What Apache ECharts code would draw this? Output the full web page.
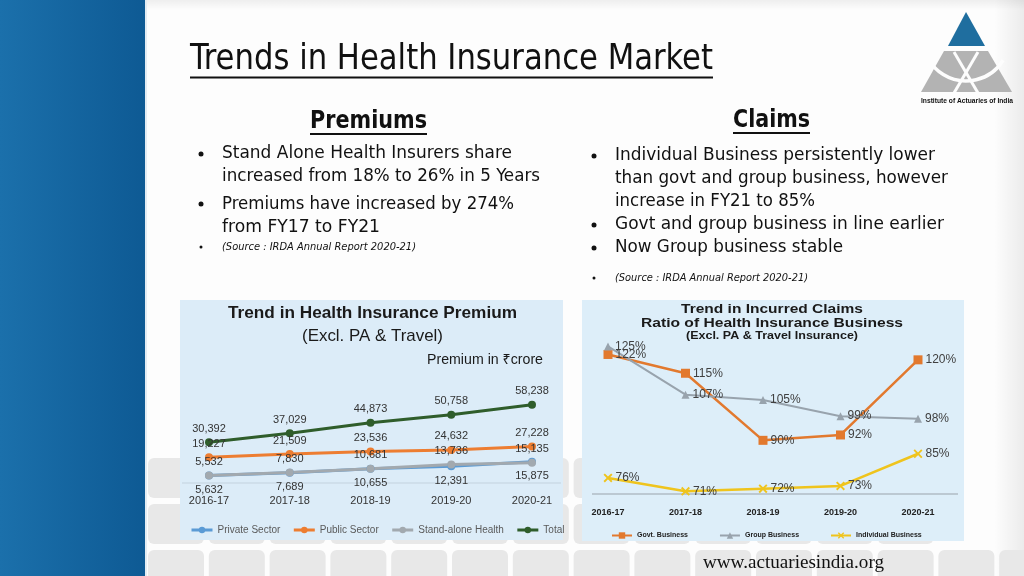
<!DOCTYPE html>
<html><head><meta charset="utf-8">
<script src="https://cdn.jsdelivr.net/npm/echarts@6/dist/echarts.min.js"></script>
<style>html,body{margin:0;padding:0;background:#fff}#c{width:1024px;height:576px}</style>
</head><body><div id="c"></div>
<script>
// ---------- data ----------
const years = ['2016-17', '2017-18', '2018-19', '2019-20', '2020-21'];
const premiumSeriesNames = ['Private Sector', 'Public Sector', 'Stand-alone Health', 'Total'];
const privateSector = [5632, 7689, 10655, 12391, 15875];
const publicSector = [19227, 21509, 23536, 24632, 27228];
const standAloneHealth = [5532, 7830, 10681, 13736, 15135];
const totalPremium = [30392, 37029, 44873, 50758, 58238];
const claimSeriesNames = ['Govt. Business', 'Group Business', 'Individual Business'];
const govtBusiness = [122, 115, 90, 92, 120];
const groupBusiness = [125, 107, 105, 99, 98];
const individualBusiness = [76, 71, 72, 73, 85];

// ---------- fonts / helpers ----------
const NARROW = "'Liberation Sans Narrow','Arial Narrow','DejaVu Sans Condensed',sans-serif";
const SANS = "'Liberation Sans',Arial,sans-serif";
const SERIF = "'Liberation Serif','Times New Roman',serif";
const mctx = document.createElement('canvas').getContext('2d');
function txt(text, x, y, o) {
  o = o || {};
  const size = o.size || 16, weight = o.weight || 'normal', fstyle = o.italic ? 'italic' : 'normal', family = o.family || NARROW;
  let sx = 1;
  if (o.w) { mctx.font = fstyle + ' ' + weight + ' ' + size + 'px ' + family; sx = o.w / mctx.measureText(text).width; }
  const al = o.align || 'left';
  return { type: 'text', x: x, y: y, scaleX: sx, z: 20,
    style: { text: text, fontSize: size, fontWeight: weight, fontStyle: fstyle, fontFamily: family,
      fill: o.color || '#111', align: al, textAlign: al, verticalAlign: 'middle', textVerticalAlign: 'middle' } };
}
function line(x1, y1, x2, y2, color, w, z) {
  return { type: 'line', z: z || 15, shape: { x1: x1, y1: y1, x2: x2, y2: y2 }, style: { stroke: color, lineWidth: w } };
}
function dot(x, y, r) { return { type: 'circle', z: 20, shape: { cx: x, cy: y, r: r }, style: { fill: '#111' } }; }
const fmtNum = p => Number(p.value).toLocaleString('en-US');

// ---------- slide decoration ----------
const G = [];
G.push({ type: 'rect', z: 0, shape: { x: 0, y: 0, width: 1024, height: 576 }, style: { fill: '#fdfdfd' } });
G.push({ type: 'rect', z: 1, shape: { x: 0, y: 0, width: 1024, height: 10 },
  style: { fill: new echarts.graphic.LinearGradient(0, 0, 0, 1, [{ offset: 0, color: 'rgba(0,0,0,0.06)' }, { offset: 1, color: 'rgba(0,0,0,0)' }]) } });
G.push({ type: 'rect', z: 1, shape: { x: 994, y: 0, width: 30, height: 576 },
  style: { fill: new echarts.graphic.LinearGradient(0, 0, 1, 0, [{ offset: 0, color: 'rgba(0,0,0,0)' }, { offset: 1, color: 'rgba(0,0,0,0.07)' }]) } });
// tiles
for (let r = 0; r < 3; r++) {
  const ty = [458, 504, 550][r];
  for (let c = 0; c < 15; c++) {
    const tx = 148 + c * 60.8;
    if (r < 2 && tx > 920) continue;
    G.push({ type: 'rect', z: 2, shape: { x: tx, y: ty, width: 56, height: 40, r: 6 }, style: { fill: '#e8e8e8' } });
  }
}
// blue band
G.push({ type: 'rect', z: 3, shape: { x: 0, y: 0, width: 145, height: 576 },
  style: { fill: new echarts.graphic.LinearGradient(0, 0, 1, 0, [{ offset: 0, color: '#1b70ab' }, { offset: 1, color: '#0e5a94' }]) } });
G.push(line(146, 0, 146, 576, '#e3ecf3', 2, 4));
// chart panels
G.push({ type: 'rect', z: 5, shape: { x: 180, y: 300, width: 383, height: 240 }, style: { fill: '#dcecf8' } });
G.push({ type: 'rect', z: 5, shape: { x: 582, y: 300, width: 382, height: 241 }, style: { fill: '#ddeef9' } });
G.push(line(182, 483, 561, 483, '#c3d2de', 1, 6));
G.push(line(592, 494, 958, 494, '#9aa3ab', 1, 6));
// titles
G.push(txt('Trends in Health Insurance Market', 190, 60, { size: 36, w: 523 }));
G.push(line(190, 77.5, 713, 77.5, '#111', 2));
G.push(txt('Premiums', 368.5, 121, { size: 25, weight: 'bold', w: 117, align: 'center' }));
G.push(line(310, 134, 427, 134, '#111', 2));
G.push(txt('Claims', 771.5, 120, { size: 25, weight: 'bold', w: 77, align: 'center' }));
G.push(line(733, 133, 810, 133, '#111', 2));
// bullets left
G.push(dot(201, 154, 2.5));
G.push(txt('Stand Alone Health Insurers share', 222, 153, { size: 18, w: 290 }));
G.push(txt('increased from 18% to 26% in 5 Years', 222, 176, { size: 18, w: 318 }));
G.push(dot(201, 204, 2.5));
G.push(txt('Premiums have increased by 274%', 222, 204, { size: 18, w: 292 }));
G.push(txt('from FY17 to FY21', 222, 227, { size: 18, w: 158 }));
G.push(dot(201, 247, 1.5));
G.push(txt('(Source : IRDA Annual Report 2020-21)', 222, 247, { size: 11, italic: true, w: 194 }));
// bullets right
G.push(dot(594, 156, 2.5));
G.push(txt('Individual Business persistently lower', 615, 155, { size: 18, w: 320 }));
G.push(txt('than govt and group business, however', 615, 178, { size: 18, w: 333 }));
G.push(txt('increase in FY21 to 85%', 615, 201, { size: 18, w: 200 }));
G.push(dot(594, 225, 2.5));
G.push(txt('Govt and group business in line earlier', 615, 224, { size: 18, w: 329 }));
G.push(dot(594, 248, 2.5));
G.push(txt('Now Group business stable', 615, 247, { size: 18, w: 228 }));
G.push(dot(594, 278, 1.5));
G.push(txt('(Source : IRDA Annual Report 2020-21)', 615, 278, { size: 11, italic: true, w: 193 }));
// footer
G.push(txt('www.actuariesindia.org', 703, 563, { size: 18, family: SERIF, w: 181 }));
// logo
G.push({ type: 'polygon', z: 20, shape: { points: [[966, 12], [948, 46], [985, 46]] }, style: { fill: '#1f6e9f' } });
G.push({ type: 'polygon', z: 20, shape: { points: [[944, 51], [988, 51], [1012, 92], [921, 92]] }, style: { fill: '#b3b3b3' } });
G.push({ type: 'arc', z: 21, shape: { cx: 966, cy: 37.5, r: 43.5, startAngle: 0.55, endAngle: 2.6 }, style: { stroke: '#fdfdfd', lineWidth: 3.5, fill: null } });
G.push(line(954, 52, 978, 93, '#fdfdfd', 3, 21));
G.push(line(978, 52, 954, 93, '#fdfdfd', 3, 21));
G.push(txt('Institute of Actuaries of India', 967, 101, { size: 8, weight: 'bold', family: SANS, w: 92, align: 'center' }));
// chart titles
G.push(txt('Trend in Health Insurance Premium', 372.5, 313, { size: 17, weight: 'bold', family: SANS, w: 289, align: 'center', color: '#1a1a1a' }));
G.push(txt('(Excl. PA & Travel)', 372.5, 336, { size: 17, family: SANS, w: 141, align: 'center', color: '#1a1a1a' }));
G.push(txt('Premium in \u20b9crore', 485, 360, { size: 14, family: "'Liberation Sans','Noto Sans','DejaVu Sans',sans-serif", w: 116, align: 'center', color: '#1a1a1a' }));
G.push(txt('Trend in Incurred Claims', 772, 309, { size: 13, weight: 'bold', family: SANS, w: 182, align: 'center', color: '#1a1a1a' }));
G.push(txt('Ratio of Health Insurance Business', 772, 323, { size: 13, weight: 'bold', family: SANS, w: 262, align: 'center', color: '#1a1a1a' }));
G.push(txt('(Excl. PA & Travel Insurance)', 772, 336, { size: 10, weight: 'bold', family: SANS, w: 172, align: 'center', color: '#1a1a1a' }));

// ---------- chart ----------
const premLabel = (pos, dist) => ({ show: true, position: pos, distance: dist, formatter: fmtNum, fontSize: 11, fontFamily: SANS, color: '#333' });
function premSeries(name, data, color, pos, dist) {
  return { name: name, type: 'line', xAxisIndex: 0, yAxisIndex: 0, data: data, symbol: 'circle', symbolSize: 8,
    lineStyle: { width: 3, color: color }, itemStyle: { color: color }, label: premLabel(pos, dist), z: 40 };
}
const crossPath = 'path://M0,1.5L1.5,0L5,3.5L8.5,0L10,1.5L6.5,5L10,8.5L8.5,10L5,6.5L1.5,10L0,8.5L3.5,5Z';
function claimSeries(name, data, color, symbol, size, w) {
  return { name: name, type: 'line', xAxisIndex: 1, yAxisIndex: 1, data: data, symbol: symbol, symbolSize: size,
    lineStyle: { width: w, color: color }, itemStyle: { color: color },
    label: { show: true, position: 'right', distance: 3, formatter: '{c}%', fontSize: 12, fontFamily: SANS, color: '#404040' }, z: 40 };
}

const option = {
  animation: false,
  backgroundColor: '#fdfdfd',
  graphic: { elements: G },
  grid: [
    { left: 209, right: 492, top: 389, bottom: 93 },
    { left: 608, right: 106, top: 333, bottom: 82 }
  ],
  xAxis: [
    { gridIndex: 0, type: 'category', data: years, boundaryGap: false, z: 40, axisLine: { show: false }, axisTick: { show: false }, splitLine: { show: false },
      axisLabel: { margin: 12, fontSize: 11, fontFamily: SANS, color: '#333' } },
    { gridIndex: 1, type: 'category', data: years, boundaryGap: false, z: 40, axisLine: { show: false }, axisTick: { show: false }, splitLine: { show: false },
      axisLabel: { margin: 14, fontSize: 9, fontWeight: 'bold', fontFamily: SANS, color: '#222' } }
  ],
  yAxis: [
    { gridIndex: 0, type: 'value', min: 0, max: 70000, show: false },
    { gridIndex: 1, type: 'value', min: 70, max: 130, show: false }
  ],
  legend: [
    { data: premiumSeriesNames, left: 185, top: 520, z: 40, itemWidth: 21, itemHeight: 8, itemGap: 12,
      lineStyle: { width: 3 },
      textStyle: { fontSize: 10, fontFamily: SANS, color: '#5a5a5a' } },
    { data: claimSeriesNames, left: 606, top: 527, z: 40, itemWidth: 20, itemHeight: 8, itemGap: 31,
      textStyle: { fontSize: 7, fontWeight: 'bold', fontFamily: SANS, color: '#222' } }
  ],
  series: [
    premSeries(premiumSeriesNames[0], privateSector, '#5b9bd5', 'bottom', 5),
    premSeries(premiumSeriesNames[1], publicSector, '#ed7d31', 'top', 4),
    premSeries(premiumSeriesNames[2], standAloneHealth, '#a2a9af', 'top', 4),
    premSeries(premiumSeriesNames[3], totalPremium, '#2f5d2b', 'top', 4),
    claimSeries(claimSeriesNames[0], govtBusiness, '#e2792e', 'rect', 9, 2.5),
    claimSeries(claimSeriesNames[1], groupBusiness, '#98a3ad', 'triangle', 8, 2),
    claimSeries(claimSeriesNames[2], individualBusiness, '#efc41d', crossPath, 9, 2.5)
  ]
};
const chart = echarts.init(document.getElementById('c'), null, { renderer: 'canvas' });
chart.setOption(option);
</script></body></html>
